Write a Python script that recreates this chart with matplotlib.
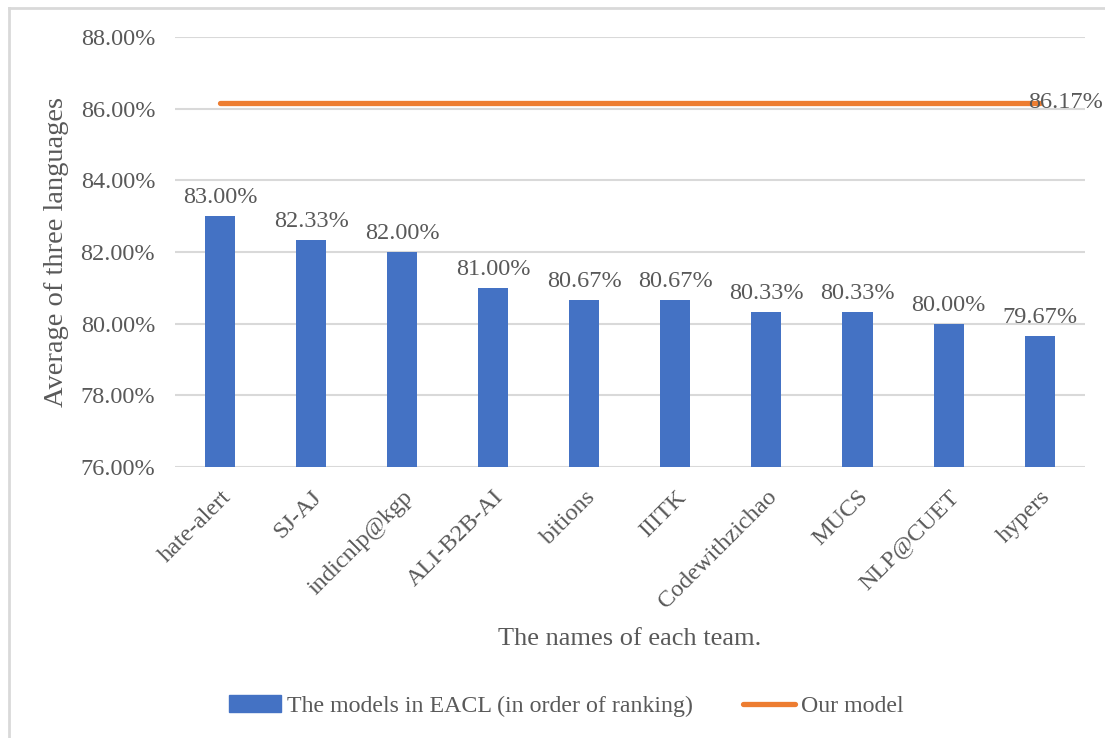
import matplotlib.pyplot as plt
import numpy as np
from matplotlib.patches import Patch
from matplotlib.lines import Line2D
from matplotlib.ticker import FuncFormatter, MultipleLocator

plt.rcParams['font.family'] = ['Liberation Serif', 'DejaVu Serif']
plt.rcParams['font.size'] = 17.5

# data
teams = ['hate-alert', 'SJ-AJ', 'indicnlp@kgp', 'ALI-B2B-AI', 'bitions',
         'IIITK', 'Codewithzichao', 'MUCS', 'NLP@CUET', 'hypers']
scores = [83.00, 82.33, 82.00, 81.00, 80.67, 80.67, 80.33, 80.33, 80.00, 79.67]
our_model = 86.17

blue = '#4472C4'
orange = '#ED7D31'
grey_txt = '#595959'
grid_c = '#D9D9D9'

fig = plt.figure(figsize=(11.05, 7.38), dpi=100)
ax = fig.add_axes([0.158, 0.367, 0.824, 0.583])

x = np.arange(len(teams))
bars = ax.bar(x, np.array(scores) - 76, bottom=76, width=0.33, color=blue, zorder=3)
ax.plot(x, [our_model] * len(teams), color=orange, lw=3.8, solid_capstyle='round', zorder=4)

for xi, v in zip(x, scores):
    ax.text(xi, v + 0.22, '%.2f%%' % v, ha='center', va='bottom', color=grey_txt, fontsize=17.5)
ax.text(x[-1] - 0.13, our_model, '%.2f%%' % our_model, ha='left', va='center', color=grey_txt, fontsize=17.5, zorder=5)

ax.set_xlim(-0.5, len(teams) - 0.5)
ax.set_ylim(76, 88)
ax.yaxis.set_major_locator(MultipleLocator(2))
ax.yaxis.set_major_formatter(FuncFormatter(lambda v, p: '%.2f%%' % v))
ax.grid(axis='y', color=grid_c, lw=1.5, zorder=0)
for sp in ax.spines.values():
    sp.set_visible(False)
ax.tick_params(length=0, colors=grey_txt, labelsize=17.5)
ax.tick_params(axis='y', pad=14)
ax.set_xticks(x)
ax.set_xticklabels(teams, rotation=45, ha='right', rotation_mode='anchor')
ax.tick_params(axis='x', pad=14)

ax.set_ylabel('Average of three languages', color=grey_txt, fontsize=20.5, labelpad=8)
ax.set_xlabel('The names of each team.', color=grey_txt, fontsize=19, labelpad=11)

handles = [Patch(color=blue), Line2D([0], [0], color=orange, lw=3.8, solid_capstyle='round')]
fig.legend(handles, ['The models in EACL (in order of ranking)', 'Our model'],
           loc='center', bbox_to_anchor=(0.5125, 0.043), ncol=2, frameon=False,
           fontsize=17.2, labelcolor=grey_txt, handlelength=2.2, handletextpad=0.25,
           columnspacing=2.06)

# chart frame: only top and left edges are visible (cropped screenshot)
fig.add_artist(Line2D([0.008, 1.0], [0.989, 0.989], transform=fig.transFigure, color=grid_c, lw=2))
fig.add_artist(Line2D([0.008, 0.008], [0.0, 0.989], transform=fig.transFigure, color=grid_c, lw=2))

fig.savefig('out.png', dpi=100)
